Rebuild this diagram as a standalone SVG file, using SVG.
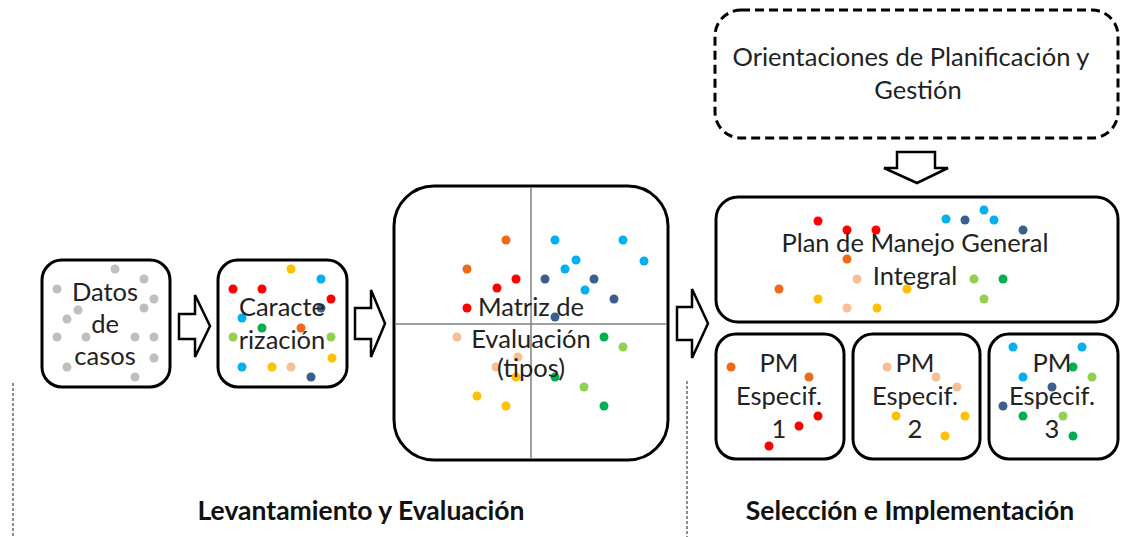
<svg xmlns="http://www.w3.org/2000/svg" width="1138" height="537" viewBox="0 0 1138 537">
<style>
.box{fill:#fff;stroke:#000;stroke-width:3}
.dash{fill:#fff;stroke:#000;stroke-width:3;stroke-dasharray:9 5}
.t{font-family:Lato,'Open Sans',sans-serif;font-size:25.5px;fill:#222;text-anchor:middle}
.lbl{font-family:Lato,'Open Sans',sans-serif;font-size:26.5px;font-weight:bold;fill:#111;text-anchor:middle}
.arr{fill:#fff;stroke:#000;stroke-width:2.5;stroke-linejoin:miter}
.axis{stroke:#808080;stroke-width:1.5}
.sep{stroke:#444;stroke-width:1.2;stroke-dasharray:3 2}
.g{fill:#BFBFBF}.r{fill:#FF0000}.o{fill:#EE6A1A}.b{fill:#00B0F0}.n{fill:#3A5F8F}
.dg{fill:#00B050}.lg{fill:#92D050}.y{fill:#FFC000}.p{fill:#F9BF94}
</style>
<line class="sep" x1="13" y1="383" x2="13" y2="537"/>
<line class="sep" x1="687" y1="381" x2="687" y2="537"/>
<g id="datos">
<rect class="box" x="42" y="260" width="128" height="127" rx="20"/>
<g class="g">
<circle cx="115" cy="269" r="4.5"/><circle cx="144" cy="279" r="4.5"/><circle cx="57" cy="289" r="4.5"/><circle cx="154" cy="299" r="4.5"/><circle cx="78" cy="310" r="4.5"/><circle cx="144" cy="308" r="4.5"/><circle cx="67" cy="319" r="4.5"/><circle cx="57" cy="337" r="4.5"/><circle cx="86" cy="337" r="4.5"/><circle cx="135" cy="337" r="4.5"/><circle cx="154" cy="337" r="4.5"/><circle cx="154" cy="358" r="4.5"/><circle cx="67" cy="367" r="4.5"/><circle cx="135" cy="377" r="4.5"/>
</g>
<text class="t" x="105" y="301">Datos</text>
<text class="t" x="105" y="333">de</text>
<text class="t" x="105" y="365">casos</text>
</g>
<g id="caracterizacion">
<rect class="box" x="218" y="260" width="129" height="127" rx="20"/>
<circle class="y" cx="291" cy="269" r="4.5"/><circle class="b" cx="321" cy="279" r="4.5"/><circle class="r" cx="233" cy="289" r="4.5"/><circle class="r" cx="262" cy="289" r="4.5"/><circle class="r" cx="331" cy="299" r="4.5"/><circle class="n" cx="321" cy="308" r="4.5"/><circle class="b" cx="242" cy="318" r="4.5"/><circle class="dg" cx="262" cy="328" r="4.5"/><circle class="o" cx="301" cy="328" r="4.5"/><circle class="lg" cx="233" cy="337" r="4.5"/><circle class="lg" cx="331" cy="337" r="4.5"/><circle class="y" cx="332" cy="358" r="4.5"/><circle class="b" cx="242" cy="367" r="4.5"/><circle class="y" cx="272" cy="367" r="4.5"/><circle class="p" cx="291" cy="367" r="4.5"/><circle class="n" cx="311" cy="377" r="4.5"/>
<text class="t" x="282" y="316">Caracte</text>
<text class="t" x="282" y="349">rización</text>
</g>
<g id="matriz">
<rect class="box" x="394" y="186" width="274" height="274" rx="40"/>
<line class="axis" x1="531" y1="187" x2="531" y2="459"/>
<line class="axis" x1="395" y1="324" x2="667" y2="324"/>
<circle class="o" cx="506" cy="240" r="4.5"/><circle class="b" cx="555" cy="240" r="4.5"/><circle class="b" cx="623" cy="240" r="4.5"/><circle class="o" cx="467" cy="269" r="4.5"/><circle class="b" cx="576" cy="260" r="4.5"/><circle class="b" cx="565" cy="269" r="4.5"/><circle class="b" cx="644" cy="261" r="4.5"/><circle class="r" cx="516" cy="279" r="4.5"/><circle class="n" cx="545" cy="279" r="4.5"/><circle class="n" cx="594" cy="279" r="4.5"/><circle class="r" cx="497" cy="288" r="4.5"/><circle class="b" cx="585" cy="290" r="4.5"/><circle class="n" cx="614" cy="299" r="4.5"/><circle class="r" cx="467" cy="308" r="4.5"/><circle class="n" cx="555" cy="317" r="4.5"/><circle class="p" cx="457" cy="337" r="4.5"/><circle class="dg" cx="604" cy="337" r="4.5"/><circle class="lg" cx="623" cy="347" r="4.5"/><circle class="p" cx="518" cy="357" r="4.5"/><circle class="p" cx="496" cy="367" r="4.5"/><circle class="y" cx="516" cy="377" r="4.5"/><circle class="dg" cx="555" cy="377" r="4.5"/><circle class="lg" cx="584" cy="387" r="4.5"/><circle class="y" cx="477" cy="396" r="4.5"/><circle class="y" cx="506" cy="406" r="4.5"/><circle class="dg" cx="604" cy="406" r="4.5"/>
<text class="t" x="531" y="316">Matriz de</text>
<text class="t" x="531" y="348">Evaluación</text>
<text class="t" x="531" y="377">(tipos)</text>
</g>
<g id="orientaciones">
<rect class="dash" x="715" y="10" width="403" height="128" rx="26"/>
<text class="t" x="911" y="66">Orientaciones de Planificación y</text>
<text class="t" x="918" y="99">Gestión</text>
</g>
<g id="plan-general">
<rect class="box" x="716" y="197" width="402" height="125" rx="22"/>
<circle class="r" cx="818" cy="221" r="4.5"/><circle class="r" cx="847" cy="230" r="4.5"/><circle class="r" cx="876" cy="230" r="4.5"/><circle class="b" cx="946" cy="219" r="4.5"/><circle class="n" cx="965" cy="220" r="4.5"/><circle class="b" cx="984" cy="210" r="4.5"/><circle class="b" cx="994" cy="220" r="4.5"/><circle class="n" cx="1023" cy="230" r="4.5"/><circle class="o" cx="847" cy="259" r="4.5"/><circle class="p" cx="857" cy="279" r="4.5"/><circle class="lg" cx="974" cy="279" r="4.5"/><circle class="dg" cx="1003" cy="279" r="4.5"/><circle class="o" cx="779" cy="289" r="4.5"/><circle class="y" cx="907" cy="289" r="4.5"/><circle class="y" cx="818" cy="299" r="4.5"/><circle class="lg" cx="984" cy="299" r="4.5"/><circle class="p" cx="847" cy="308" r="4.5"/><circle class="y" cx="877" cy="308" r="4.5"/>
<text class="t" x="915" y="252">Plan de Manejo General</text>
<text class="t" x="915" y="285">Integral</text>
</g>
<g id="pm1">
<rect class="box" x="716" y="334" width="128" height="125" rx="20"/>
<circle class="o" cx="731" cy="367" r="4.5"/><circle class="o" cx="809" cy="377" r="4.5"/><circle class="r" cx="818" cy="416" r="4.5"/><circle class="r" cx="799" cy="426" r="4.5"/><circle class="r" cx="769" cy="446" r="4.5"/>
<text class="t" x="779" y="372">PM</text>
<text class="t" x="779" y="405">Especif.</text>
<text class="t" x="779" y="438">1</text>
</g>
<g id="pm2">
<rect class="box" x="853" y="334" width="127" height="125" rx="20"/>
<circle class="p" cx="887" cy="367" r="4.5"/><circle class="p" cx="936" cy="377" r="4.5"/><circle class="p" cx="957" cy="387" r="4.5"/><circle class="y" cx="896" cy="416" r="4.5"/><circle class="y" cx="965" cy="416" r="4.5"/><circle class="y" cx="945" cy="436" r="4.5"/>
<text class="t" x="915" y="372">PM</text>
<text class="t" x="915" y="405">Especif.</text>
<text class="t" x="915" y="438">2</text>
</g>
<g id="pm3">
<rect class="box" x="989" y="334" width="129" height="125" rx="20"/>
<circle class="b" cx="1013" cy="347" r="4.5"/><circle class="b" cx="1082" cy="347" r="4.5"/><circle class="dg" cx="1073" cy="367" r="4.5"/><circle class="b" cx="1023" cy="377" r="4.5"/><circle class="lg" cx="1092" cy="377" r="4.5"/><circle class="n" cx="1052" cy="387" r="4.5"/><circle class="n" cx="1003" cy="406" r="4.5"/><circle class="dg" cx="1023" cy="416" r="4.5"/><circle class="lg" cx="1063" cy="416" r="4.5"/><circle class="dg" cx="1073" cy="436" r="4.5"/>
<text class="t" x="1052" y="372">PM</text>
<text class="t" x="1052" y="405">Especif.</text>
<text class="t" x="1052" y="438">3</text>
</g>
<g id="connectors">
<path class="arr" d="M179,314 H195 V295 L210,326 L195,357 V339 H179 Z"/>
<path class="arr" d="M355,308 H371 V290 L385,323.5 L371,357 V339 H355 Z"/>
<path class="arr" d="M677,307 H692 V289 L708,323.5 L692,358 V340 H677 Z"/>
<path class="arr" d="M897,152 H935 V168 H948 L917,183 L884,168 H897 Z"/>
</g>
<text class="lbl" x="361" y="520">Levantamiento y Evaluación</text>
<text class="lbl" x="910" y="520">Selección e Implementación</text>
</svg>
